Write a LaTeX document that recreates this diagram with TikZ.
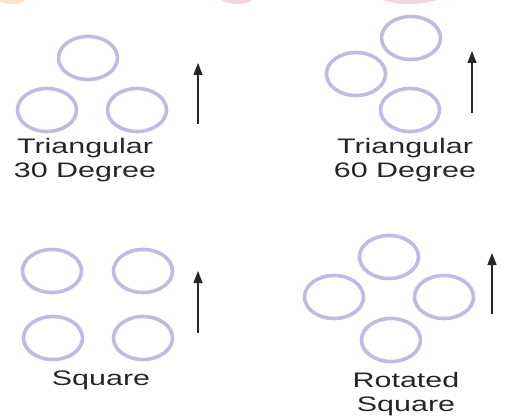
\documentclass[tikz,border=0pt]{standalone}
\usepackage{fontspec}
\setmainfont{Liberation Sans}
\usetikzlibrary{arrows.meta, positioning, shapes.geometric}
\definecolor{lavender}{HTML}{BDBDE3}
\definecolor{blush}{HTML}{F7D3E4}
\definecolor{peach}{HTML}{FBE3CC}
\begin{document}
\begin{tikzpicture}[
      x=1pt, y=-1pt,
      pore/.style={ellipse, draw=lavender, line width=3.6pt, minimum width=59pt, minimum height=43pt, inner sep=0pt},
      lab/.style={font=\fontsize{21}{24}\selectfont, text=black!85, align=center, xscale=1.45, transform shape, inner sep=0pt},
      flow/.style={-{Triangle[width=9pt, length=12pt]}, line width=1.3pt, black!85}
    ]
    \useasboundingbox (0,0) rectangle (505,417);
    % faint bits cut off at the top edge
    \fill[peach] (12,-1) ellipse [x radius=13, y radius=5];
    \fill[blush] (237,-2) ellipse [x radius=16, y radius=6];
    \fill[blush] (410,-5) ellipse [x radius=32, y radius=9];
    % triangular 30 degree
    \node[pore] (t30a) at (88,58) {};
    \node[pore] (t30b) at (47,110) {};
    \node[pore] (t30c) at (137,110) {};
    \coordinate (t30s) at (198,124);
    \coordinate (t30n) at (198,63);
    \draw[flow] (t30s) -- (t30n);
    \node[lab, anchor=base] (t30lab) at (85,177) {Triangular\\30 Degree};
    % triangular 60 degree
    \node[pore] (t60a) at (411,38) {};
    \node[pore] (t60b) at (356,74) {};
    \node[pore] (t60c) at (410,110) {};
    \coordinate (t60s) at (472,113);
    \coordinate (t60n) at (472,51);
    \draw[flow] (t60s) -- (t60n);
    \node[lab, anchor=base] (t60lab) at (405,177) {Triangular\\60 Degree};
    % square
    \node[pore] (sqa) at (52,271) {};
    \node[pore] (sqb) at (143,271) {};
    \node[pore] (sqc) at (53,338) {};
    \node[pore] (sqd) at (143,338) {};
    \coordinate (sqs) at (198,333);
    \coordinate (sqn) at (198,271);
    \draw[flow] (sqs) -- (sqn);
    \node[lab, anchor=base] (sqlab) at (101,385) {Square};
    % rotated square
    \node[pore] (rsa) at (389,257) {};
    \node[pore] (rsb) at (334,297) {};
    \node[pore] (rsc) at (444,297) {};
    \node[pore] (rsd) at (391,340) {};
    \coordinate (rss) at (492,314);
    \coordinate (rsn) at (492,253);
    \draw[flow] (rss) -- (rsn);
    \node[lab, anchor=base] (rslab) at (406,411) {Rotated\\Square};
\end{tikzpicture}
\end{document}
